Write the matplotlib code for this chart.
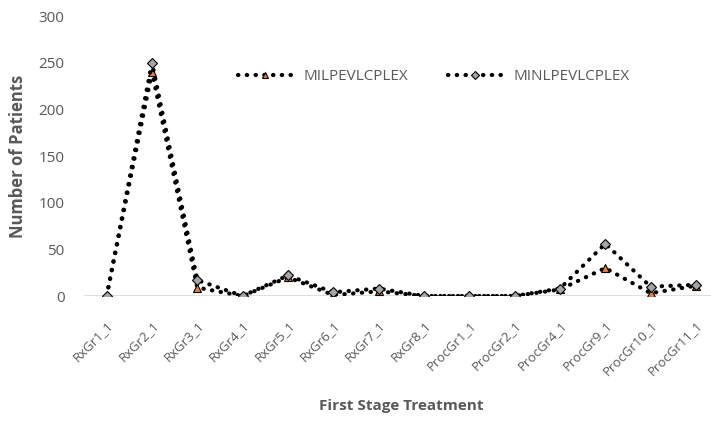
import numpy as np
import matplotlib.pyplot as plt

plt.rcParams['font.family'] = ['Open Sans', 'DejaVu Sans']

# Tratamientos de primera etapa y pacientes asignados por cada modelo
treatments = ['RxGr1_1', 'RxGr2_1', 'RxGr3_1', 'RxGr4_1', 'RxGr5_1', 'RxGr6_1',
              'RxGr7_1', 'RxGr8_1', 'ProcGr1_1', 'ProcGr2_1', 'ProcGr4_1',
              'ProcGr9_1', 'ProcGr10_1', 'ProcGr11_1']
milp = [0, 240, 9, 0, 20, 1, 5, 0, 0, 0, 7, 30, 3, 11]
minlp = [0, 250, 17, 0, 22, 4, 8, 0, 0, 0, 8, 56, 10, 12]
y_ticks = [0, 50, 100, 150, 200, 250, 300]

grey = '#595959'
x = np.arange(len(treatments))

fig = plt.figure(figsize=(7.11, 4.21), dpi=100)
ax = fig.add_axes([84/711, 125/421, 634.6/711, 280/421])

dots = (0, (0.1, 2.0))
ax.plot(x, milp, color='black', lw=3.0, linestyle=dots, dash_capstyle='round',
        marker='^', ms=6, mfc='#ED7D31', mec='black', mew=0.8, label='MILPEVLCPLEX')
ax.plot(x, minlp, color='black', lw=3.0, linestyle=dots, dash_capstyle='round',
        marker='D', ms=5.5, mfc='#A5A5A5', mec='black', mew=0.8, label='MINLPEVLCPLEX')

ax.set_xlim(-0.5, len(treatments) - 0.5)
ax.set_ylim(0, 300)
ax.set_yticks(y_ticks)
ax.set_xticks(x)
ax.set_xticklabels(treatments, rotation=45, ha='right', rotation_mode='anchor')
ax.tick_params(axis='both', length=0, colors=grey)
ax.tick_params(axis='y', labelsize=11, pad=14)
ax.tick_params(axis='x', labelsize=9.5, pad=16)

for s in ax.spines.values():
    s.set_visible(False)
ax.axhline(0, color='#D9D9D9', lw=1.2, zorder=0)

ax.set_ylabel('Number of Patients', fontsize=12, fontweight='bold', color=grey, labelpad=8)
ax.set_xlabel('First Stage Treatment', fontsize=11, fontweight='bold', color=grey, labelpad=15)

leg = fig.legend(loc='center', bbox_to_anchor=(434/711, 344/421), ncol=2, frameon=False,
                 fontsize=11, handlelength=3.5, columnspacing=2.6, markerscale=0.8)
for t in leg.get_texts():
    t.set_color(grey)

fig.savefig('out.png', dpi=100)
